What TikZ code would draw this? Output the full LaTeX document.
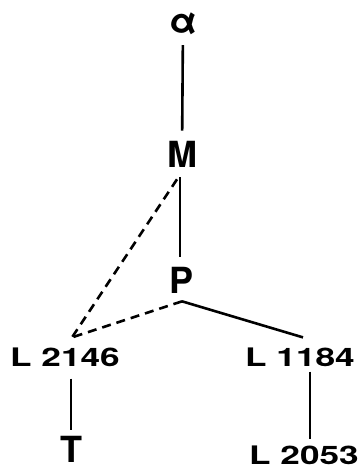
\documentclass[tikz,border=0pt]{standalone}
\usepackage{fontspec}
\setmainfont{TeX Gyre Heros}
\newfontfamily\codefont[FakeStretch=1.38]{TeX Gyre Heros}
\tikzset{
  big/.style={inner sep=0pt,font=\bfseries\fontsize{36}{40}\selectfont},
  code/.style={inner sep=0pt,font=\codefont\bfseries\fontsize{25.5}{28}\selectfont},
  link/.style={line width=2.6pt,shorten <=10pt,shorten >=10pt},
  guess/.style={line width=2.6pt,dash pattern=on 9pt off 6pt}
}
\begin{document}
\begin{tikzpicture}[x=1pt,y=-1pt]
  \useasboundingbox (0,0) rectangle (361,470);
  \node[big] (al) at (183,24) {α}; \node[big] (m) at (182,154) {M}; \node[big] (p) at (182,280) {P}; \node[big] (t) at (71,449) {T};
  \node[code] (l2146) at (65,357) {L 2146}; \node[code] (l1184) at (300,357) {L 1184}; \node[code] (l2053) at (304,455) {L 2053};
  \coordinate (j) at ([xshift=7pt,yshift=10pt]l2146.north); \coordinate (pj) at ([yshift=-8pt]p.south); \coordinate (k) at ([xshift=3pt,yshift=10pt]l1184.north);
  \draw[link] (al) -- (m); \draw[link] ([xshift=-2pt]m.south) -- ([xshift=-2pt]p.north);
  \draw[guess] ([xshift=-5pt,yshift=-12pt]m.south) -- (j); \draw[guess] (pj) -- (j);
  \draw[line width=2.6pt] (pj) -- (k);
  \draw[link,shorten <=12pt,shorten >=6pt] ([xshift=6pt]l2146.south) -- (t.north);
  \draw[link,shorten <=5pt,shorten >=6pt] ([xshift=10pt]l1184.south) -- ([xshift=6pt]l2053.north);
\end{tikzpicture}
\end{document}
